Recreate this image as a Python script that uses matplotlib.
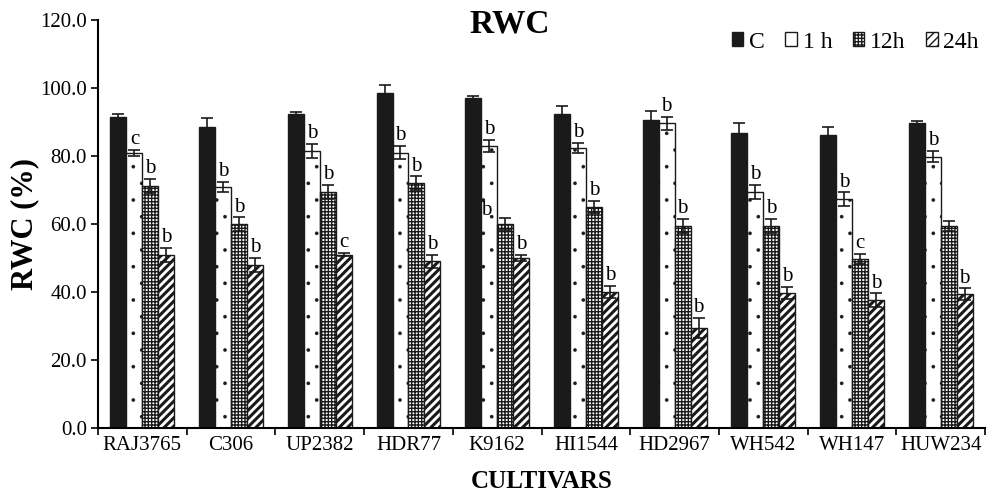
import matplotlib
matplotlib.use("Agg")
import matplotlib.pyplot as plt
import numpy as np

cultivars = ["RAJ3765", "C306", "UP2382", "HDR77", "K9162", "HI1544", "HD2967", "WH542", "WH147", "HUW234"]
series = ["C", "1 h", "12h", "24h"]
val_C   = [91.5, 88.6, 92.5, 98.5, 97.0, 92.5, 90.6, 86.8, 86.2, 89.6]
val_1h  = [80.9, 71.0, 81.5, 81.0, 83.0, 82.3, 89.6, 69.5, 67.3, 79.8]
val_12h = [71.2, 60.0, 69.5, 72.0, 60.0, 65.0, 59.5, 59.5, 49.7, 59.5]
val_24h = [50.9, 48.0, 51.0, 49.0, 50.0, 40.0, 29.4, 39.7, 37.6, 39.4]
err_C   = [1.0, 2.5, 0.5, 2.3, 0.7, 2.2, 2.5, 3.0, 2.4, 0.8]
err_1h  = [1.0, 1.5, 2.0, 2.0, 1.7, 1.5, 2.0, 2.0, 2.0, 1.7]
err_12h = [2.0, 2.0, 2.0, 2.0, 1.7, 1.8, 2.0, 2.0, 1.5, 1.5]
err_24h = [2.0, 2.0, 0.5, 2.0, 1.0, 1.8, 3.0, 1.8, 2.0, 1.7]
lab_1h  = ["c", "b", "b", "b", "b", "b", "b", "b", "b", "b"]
lab_12h = ["b", "b", "b", "b", "b", "b", "b", "b", "c", ""]
lab_24h = ["b", "b", "c", "b", "b", "b", "b", "b", "b", "b"]
yticks = [0, 20, 40, 60, 80, 100, 120]

plt.rcParams['font.family'] = ['Liberation Serif', 'DejaVu Serif']

fig = plt.figure(figsize=(9.95, 5.01), dpi=100)
ax = fig.add_axes([0.0985, 0.1457, 0.8915, 0.8143])

vals = [val_C, val_1h, val_12h, val_24h]
errs = [err_C, err_1h, err_12h, err_24h]
labs = [None, lab_1h, lab_12h, lab_24h]
faces = ["#1a1a1a", "white", "white", "white"]
hatches = [None, ".", "+++++", "////"]
hlw = [1.0, 0.2, 1.0, 2.2]
w = 0.18
x = np.arange(len(cultivars)) + 0.5
handles = []
for i in range(4):
    pos = x + (i - 1.5) * w
    with plt.rc_context({'hatch.linewidth': hlw[i], 'hatch.color': '#1a1a1a'}):
        bars = ax.bar(pos, vals[i], w, color=faces[i], edgecolor="#1a1a1a",
                      linewidth=1.0, hatch=hatches[i], label=series[i])
    for b in bars:
        try:
            b.set_hatch_linewidth(hlw[i])
        except Exception:
            pass
    handles.append(bars)
    ax.errorbar(pos, vals[i], yerr=errs[i], fmt="none", ecolor="#1a1a1a",
                elinewidth=1.2, capsize=4, capthick=1.2)
    if labs[i] is not None:
        for j, t in enumerate(labs[i]):
            if not t:
                continue
            px = pos[j]
            py = vals[i][j] + errs[i][j] + 0.2
            if i == 2 and j == 4:
                px = pos[j] - w * 1.2
                py = vals[i][j] + 1.2
            ax.text(px, py, t, ha="center", va="bottom", fontsize=15, zorder=5)

ax.set_xlim(0, len(cultivars))
ax.set_ylim(0, 120)
ax.set_yticks(yticks)
ax.set_yticklabels([f"{v:.1f}" for v in yticks], fontsize=15)
ax.set_xticks(np.arange(len(cultivars) + 1))
ax.set_xticklabels([])
ax.set_xticks(x, minor=True)
ax.set_xticklabels(cultivars, minor=True, fontsize=15)
ax.tick_params(axis="x", which="minor", length=0, pad=6)
ax.tick_params(axis="x", which="major", length=5, width=1.2, direction="out")
ax.tick_params(axis="y", length=5, width=1.2, direction="out", pad=3)
for s in ["top", "right"]:
    ax.spines[s].set_visible(False)
for s in ["left", "bottom"]:
    ax.spines[s].set_linewidth(1.5)

ax.set_ylabel("RWC (%)", fontsize=22, fontweight="bold", va="center")
ax.yaxis.set_label_coords((25 - 98) / 887, 0.5)
ax.set_xlabel("CULTIVARS", fontsize=18, fontweight="bold", va="center")
ax.xaxis.set_label_coords(0.5, -(482 - 428) / 408)
fig.text(510 / 995, 1 - 24 / 501, "RWC", fontsize=24, fontweight="bold",
         ha="center", va="center")

fig.legend(handles=handles, labels=series, loc="center right",
           bbox_to_anchor=(979 / 995, 1 - 42 / 501),
           ncol=4, frameon=False, fontsize=17, handlelength=0.5, handleheight=0.5,
           handletextpad=0.25, columnspacing=0.85, borderaxespad=0.0, borderpad=0.0)

fig.savefig("out.png", dpi=100)
